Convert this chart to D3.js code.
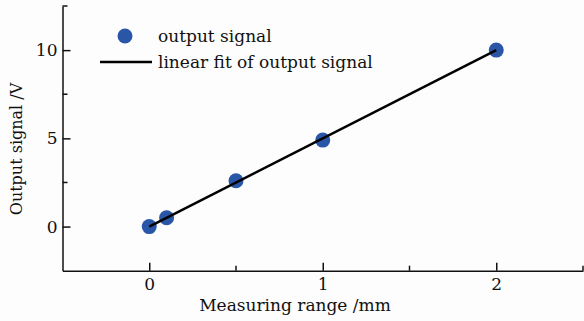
<!DOCTYPE html>
<html>
<head>
<meta charset="utf-8">
<script src="https://cdn.jsdelivr.net/npm/d3@7"></script>
<style>
  body { margin: 0; background: #fdfdfd; }
  text { font-family: "DejaVu Serif", serif; fill: #111; }
</style>
</head>
<body>
<div id="chart"></div>
<script>
// measured points
var rangeMm = [0, 0.1, 0.5, 1, 2];
var signalV = [0, 0.5, 2.6, 4.9, 10];
// linear fit endpoints
var fitX = [0, 2];
var fitY = [0, 10];
var xTicks = [0, 1, 2];
var yTicks = [0, 5, 10];

var width = 584, height = 321;
var svg = d3.select("#chart").append("svg")
    .attr("width", width)
    .attr("height", height);

var x = d3.scaleLinear().domain([-0.5, 2.5]).range([62.5, 583]);
var y = d3.scaleLinear().domain([-2.5, 12.5]).range([270.7, 6]);

// axes
var xAxis = svg.append("g")
    .attr("transform", "translate(0," + y(-2.5) + ")")
    .call(d3.axisBottom(x).tickValues(xTicks).tickSizeInner(-8).tickSizeOuter(0).tickPadding(7).tickFormat(d3.format("d")));
xAxis.append("g").selectAll("line")
    .data([0.5, 1.5, 2.5]).enter().append("line")
    .attr("x1", d => x(d)).attr("x2", d => x(d))
    .attr("y1", 0).attr("y2", -5)
    .attr("stroke", "#111").attr("stroke-width", 1.5);

var yAxis = svg.append("g")
    .attr("transform", "translate(" + x(-0.5) + ",0)")
    .call(d3.axisLeft(y).tickValues(yTicks).tickSizeInner(-8).tickSizeOuter(0).tickPadding(5).tickFormat(d3.format("d")));
yAxis.append("g").selectAll("line")
    .data([2.5, 7.5, 12.5]).enter().append("line")
    .attr("y1", d => y(d)).attr("y2", d => y(d))
    .attr("x1", 0).attr("x2", 5)
    .attr("stroke", "#111").attr("stroke-width", 1.5);

svg.selectAll(".domain").attr("stroke", "#111").attr("stroke-width", 1.5);
svg.selectAll(".tick line").attr("stroke", "#111").attr("stroke-width", 1.5);
svg.selectAll(".tick text").style("font-family", "DejaVu Serif, serif").style("font-size", "17px").attr("fill", "#111");

// points
svg.selectAll(".pt")
    .data(rangeMm).enter().append("circle")
    .attr("class", "pt")
    .attr("cx", d => x(d))
    .attr("cy", (d, i) => y(signalV[i]))
    .attr("r", 7.5)
    .attr("fill", "#2a56a8");

// fit line, drawn over the points like the reference
svg.append("line")
    .attr("x1", x(fitX[0])).attr("y1", y(fitY[0]))
    .attr("x2", x(fitX[1])).attr("y2", y(fitY[1]))
    .attr("stroke", "#000").attr("stroke-width", 2.5);

// legend
var lg = svg.append("g");
lg.append("circle").attr("cx", 125).attr("cy", 36).attr("r", 7.5).attr("fill", "#2a56a8");
lg.append("text").attr("x", 158).attr("y", 42).style("font-size", "17px").text("output signal");
lg.append("line").attr("x1", 100).attr("x2", 152).attr("y1", 62).attr("y2", 62)
    .attr("stroke", "#000").attr("stroke-width", 2.5);
lg.append("text").attr("x", 158).attr("y", 68).style("font-size", "17px").text("linear fit of output signal");

// axis titles
svg.append("text")
    .attr("x", 295).attr("y", 311)
    .attr("text-anchor", "middle")
    .style("font-size", "17px")
    .text("Measuring range /mm");
svg.append("text")
    .attr("transform", "translate(22,149) rotate(-90)")
    .attr("text-anchor", "middle")
    .style("font-size", "16px")
    .text("Output signal /V");
</script>
</body>
</html>
